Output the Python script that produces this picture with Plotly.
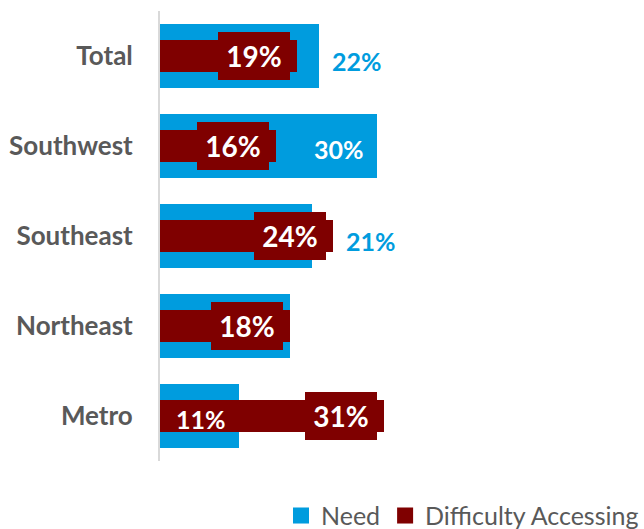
import plotly.graph_objects as go

# Regions, top to bottom
regions = ["Total", "Southwest", "Southeast", "Northeast", "Metro"]
need = [22, 30, 21, 18, 11]
difficulty = [19, 16, 24, 18, 31]
# where the Need value label sits: outside the bar end, inside it, or hidden
need_label_pos = ["outside", "inside", "outside", "none", "inside"]

BLUE = "#009CDE"
RED = "#7F0000"
GREY = "#595959"
FONT = "Lato"

fig = go.Figure()

fig.add_trace(go.Bar(
    y=regions, x=need, orientation="h", name="Need",
    marker=dict(color=BLUE, line=dict(width=0)), width=0.71,
    showlegend=False, hoverinfo="x+y",
))
fig.add_trace(go.Bar(
    y=regions, x=difficulty, orientation="h", name="Difficulty Accessing",
    marker=dict(color=RED, line=dict(width=0)), width=0.356,
    showlegend=False, hoverinfo="x+y",
))

# legend entries with larger square swatches
for name, color in [("Need", BLUE), ("Difficulty Accessing", RED)]:
    fig.add_trace(go.Scatter(
        x=[None], y=[None], mode="markers", name=name,
        marker=dict(symbol="square", size=16, color=color),
        showlegend=True,
    ))

annotations = []
# Difficulty labels: white text on a dark red box near the bar end
for r, d in zip(regions, difficulty):
    annotations.append(dict(
        x=d, y=r, xref="x", yref="y", text=f"{d}%",
        showarrow=False, xanchor="right", yanchor="middle", xshift=-7,
        width=72, height=48, bgcolor=RED, borderpad=0, borderwidth=0,
        font=dict(family=FONT, size=28, color="white", weight="bold"),
        align="center", valign="middle",
    ))

# Need labels
for r, n, d, pos in zip(regions, need, difficulty, need_label_pos):
    if pos == "none":
        continue
    if pos == "outside":
        annotations.append(dict(
            x=max(n, d), y=r, xref="x", yref="y", text=f"{n}%",
            showarrow=False, xanchor="left", yanchor="middle",
            xshift=11, yshift=-5,
            font=dict(family=FONT, size=25, color=BLUE, weight="bold"),
        ))
    else:
        annotations.append(dict(
            x=n, y=r, xref="x", yref="y", text=f"{n}%",
            showarrow=False, xanchor="right", yanchor="middle",
            xshift=-11, yshift=-3,
            font=dict(family=FONT, size=25, color="white", weight="bold"),
        ))

fig.update_layout(
    width=644, height=529,
    margin=dict(l=160, r=0, t=11, b=68, autoexpand=False),
    paper_bgcolor="white", plot_bgcolor="white",
    barmode="overlay", bargap=0,
    font=dict(family=FONT, color=GREY),
    xaxis=dict(range=[0, 67], visible=False, fixedrange=True),
    yaxis=dict(
        categoryorder="array", categoryarray=regions, autorange="reversed",
        showline=True, linecolor="#D9D9D9", linewidth=2,
        showgrid=False, zeroline=False, ticks="",
        ticklabelstandoff=20,
        tickfont=dict(family=FONT, size=26, color=GREY, weight="bold"),
    ),
    legend=dict(
        orientation="h", x=1, xanchor="right",
        yref="container", y=0.025, yanchor="middle",
        font=dict(family=FONT, size=25, color=GREY),
        itemsizing="trace", itemwidth=30, tracegroupgap=0,
        bgcolor="rgba(0,0,0,0)",
    ),
    annotations=annotations,
)

fig.write_html("out.html")
